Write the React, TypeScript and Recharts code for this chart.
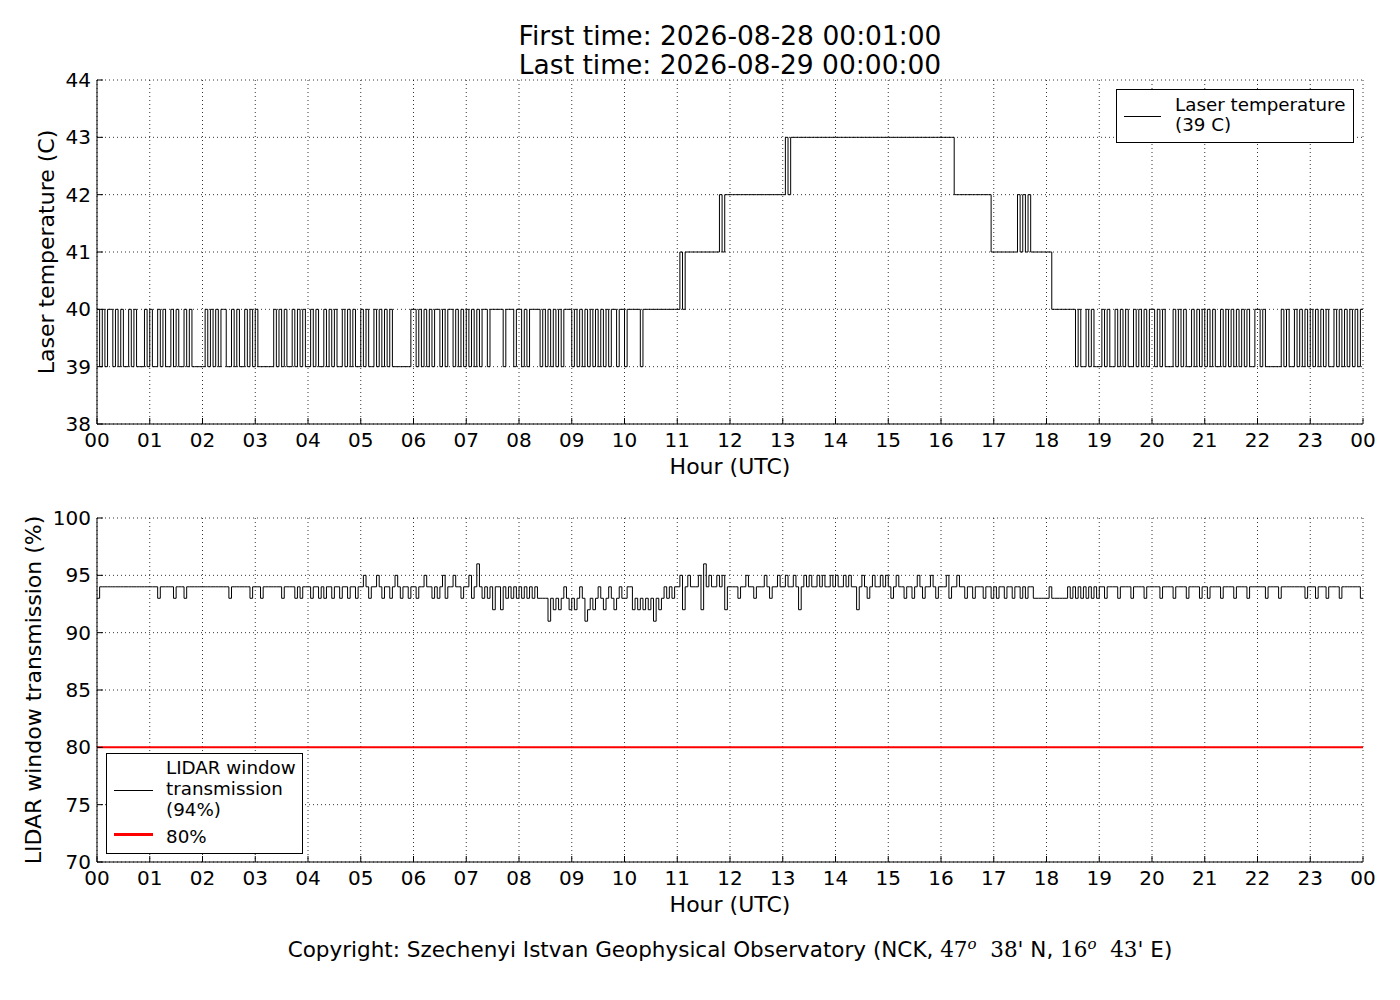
import { LineChart, Line, XAxis, YAxis, CartesianGrid, ReferenceLine } from 'recharts';

// one string per hour, one char per 3 minutes. '9' = 39 C, '0'..'3' = 40..43 C
const laserTempByHour = [
  '09090090909909099909',
  '09909099090990909999',
  '90909090099090990909',
  '09999990909099090909',
  '90909909090990909099',
  '09099090909099999990',
  '09090909009090090909',
  '09090900900000900090',
  '09090000909090909000',
  '90909090909090900900',
  '90000090000000000000',
  '01011111111111112122',
  '22222222222222222222',
  '23233333333333333333',
  '33333333333333333333',
  '33333333333333333333',
  '33333222222222222221',
  '11111111121212111111',
  '11000000000909909099',
  '90909909090990909090',
  '09090999090909909090',
  '90909909090909090990',
  '09099999909099090909',
  '09090909909090909090',
];
const laserTempEnd = 40;

// one string per hour, one char per 3 minutes. digit d = 90 + d %
const windowTransByHour = [
  '34444444444444444444',
  '44434444434443444444',
  '44444444443444444434',
  '44344444443444434344',
  '43443434434434434434',
  '45434454344345434434',
  '43445443434534454434',
  '45346434342442434343',
  '43434343333132323432',
  '32343123234323432343',
  '34423232323132343434',
  '45245444526454454524',
  '44434454434445434454',
  '45445424545445454454',
  '54454544245434544545',
  '43454434434543445434',
  '44534454434434443443',
  '43443443443434433333',
  '34333333434343434343',
  '44344443444434444344',
  '44434444344443444434',
  '43444434444344443444',
  '44434444344444444434',
  '44344434444344444443',
];
const windowTransEnd = 93;
const transThreshold = 80;

const hourTicks = [0, 1, 2, 3, 4, 5, 6, 7, 8, 9, 10, 11, 12, 13, 14, 15, 16, 17, 18, 19, 20, 21, 22, 23, 24];
const hourLabels = [
  '00', '01', '02', '03', '04', '05', '06', '07', '08', '09', '10', '11', '12',
  '13', '14', '15', '16', '17', '18', '19', '20', '21', '22', '23', '00',
];
const tempTicks = [38, 39, 40, 41, 42, 43, 44];
const transTicks = [70, 75, 80, 85, 90, 95, 100];

const tempFromChar = (c: string) => (c === '9' ? 39 : 40 + Number(c));
const transFromChar = (c: string) => 90 + Number(c);

const data: { hour: number; temp: number; trans: number }[] = [];
laserTempByHour.forEach((row, h) => {
  for (let i = 0; i < row.length; i++) {
    data.push({
      hour: h + i / row.length,
      temp: tempFromChar(row[i]),
      trans: transFromChar(windowTransByHour[h][i]),
    });
  }
});
data.push({ hour: 24, temp: laserTempEnd, trans: windowTransEnd });

const W = 1400;
const H = 470;
const margin = { top: 80, right: 37, bottom: 6, left: 37 };
const tickStyle = { fill: '#000', fontSize: 20, fontFamily: '"DejaVu Sans", sans-serif' };

function panelAxes(ticks: number[], domain: [number, number]) {
  return [
    <CartesianGrid key="g" stroke="#000" strokeDasharray="1 3" strokeWidth={0.8} />,
    <XAxis
      key="xb"
      dataKey="hour"
      type="number"
      domain={[0, 24]}
      ticks={hourTicks}
      tickFormatter={(v: number) => hourLabels[hourTicks.indexOf(v)]}
      interval={0}
      height={40}
      axisLine={{ stroke: '#000' }}
      tickLine={{ stroke: '#000' }}
      tickSize={-6}
      tickMargin={15}
      tick={tickStyle}
    />,
    <XAxis
      key="xt"
      xAxisId="top"
      orientation="top"
      dataKey="hour"
      type="number"
      domain={[0, 24]}
      ticks={hourTicks}
      interval={0}
      height={0}
      axisLine={{ stroke: '#000' }}
      tickLine={{ stroke: '#000' }}
      tickSize={-6}
      tick={false}
    />,
    <YAxis
      key="yl"
      type="number"
      domain={domain}
      ticks={ticks}
      interval={0}
      width={60}
      axisLine={{ stroke: '#000' }}
      tickLine={{ stroke: '#000' }}
      tickSize={-6}
      tickMargin={12}
      tick={tickStyle}
    />,
    <YAxis
      key="yr"
      yAxisId="right"
      orientation="right"
      type="number"
      domain={domain}
      ticks={ticks}
      interval={0}
      width={0}
      axisLine={{ stroke: '#000' }}
      tickLine={{ stroke: '#000' }}
      tickSize={-6}
      tick={false}
    />,
  ];
}

const axisTitle: React.CSSProperties = {
  position: 'absolute',
  fontSize: 22,
  lineHeight: '26px',
  textAlign: 'center',
  whiteSpace: 'nowrap',
};

const degree: React.CSSProperties = { fontStyle: 'italic', fontSize: 15, lineHeight: 0, verticalAlign: 'super' };

export default function App() {
  return (
    <div
      style={{
        position: 'absolute',
        left: 0,
        top: 0,
        width: W,
        height: 1000,
        background: '#fff',
        color: '#000',
        fontFamily: '"DejaVu Sans", sans-serif',
        overflow: 'hidden',
      }}
    >
      <div style={{ position: 'absolute', left: 97, width: 1266, top: 21, textAlign: 'center', fontSize: 26.5, lineHeight: '29px' }}>
        <div>First time: 2026-08-28 00:01:00</div>
        <div>Last time: 2026-08-29 00:00:00</div>
      </div>

      <div style={{ position: 'absolute', left: 0, top: 0 }}>
        <LineChart width={W} height={H} data={data} margin={margin}>
          {panelAxes(tempTicks, [38, 44])}
          <Line
            type="stepAfter"
            dataKey="temp"
            stroke="#000"
            strokeWidth={1}
            dot={false}
            activeDot={false}
            isAnimationActive={false}
          />
        </LineChart>
      </div>

      <div style={{ position: 'absolute', left: 0, top: 438 }}>
        <LineChart width={W} height={H} data={data} margin={margin}>
          {panelAxes(transTicks, [70, 100])}
          <Line
            type="stepAfter"
            dataKey="trans"
            stroke="#000"
            strokeWidth={1}
            dot={false}
            activeDot={false}
            isAnimationActive={false}
          />
          <ReferenceLine y={transThreshold} stroke="#ff0000" strokeWidth={2} />
        </LineChart>
      </div>

      <div style={{ ...axisTitle, left: 530, width: 400, top: 454 }}>Hour (UTC)</div>
      <div style={{ ...axisTitle, left: 530, width: 400, top: 892 }}>Hour (UTC)</div>
      <div style={{ ...axisTitle, left: 47 - 200, width: 400, top: 252 - 13, transform: 'rotate(-90deg)' }}>
        Laser temperature (C)
      </div>
      <div style={{ ...axisTitle, left: 34 - 200, width: 400, top: 690 - 13, transform: 'rotate(-90deg)' }}>
        LIDAR window transmission (%)
      </div>

      {/* legend, top panel */}
      <div
        style={{
          position: 'absolute',
          left: 1116,
          top: 89,
          width: 236,
          height: 52,
          border: '1px solid #000',
          background: '#fff',
          fontSize: 18.3,
          lineHeight: '20px',
        }}
      >
        <div style={{ position: 'absolute', left: 7, top: 26, width: 37, height: 1, background: '#000' }} />
        <div style={{ position: 'absolute', left: 58, top: 5, whiteSpace: 'nowrap' }}>
          <div>Laser temperature</div>
          <div>(39 C)</div>
        </div>
      </div>

      {/* legend, bottom panel */}
      <div
        style={{
          position: 'absolute',
          left: 106,
          top: 753,
          width: 195,
          height: 99,
          border: '1px solid #000',
          background: '#fff',
          fontSize: 18.3,
          lineHeight: '21px',
        }}
      >
        <div style={{ position: 'absolute', left: 7, top: 36, width: 39, height: 1, background: '#000' }} />
        <div style={{ position: 'absolute', left: 7, top: 79, width: 39, height: 3, background: '#ff0000' }} />
        <div style={{ position: 'absolute', left: 59, top: 3, whiteSpace: 'nowrap' }}>
          <div>LIDAR window</div>
          <div>transmission</div>
          <div>(94%)</div>
        </div>
        <div style={{ position: 'absolute', left: 59, top: 72, whiteSpace: 'nowrap' }}>80%</div>
      </div>

      <div
        style={{
          position: 'absolute',
          left: 97,
          width: 1266,
          top: 937,
          textAlign: 'center',
          fontSize: 21.5,
          lineHeight: '26px',
          whiteSpace: 'nowrap',
        }}
      >
        Copyright: Szechenyi Istvan Geophysical Observatory (NCK,{' '}
        <span style={{ fontFamily: '"DejaVu Serif", serif' }}>
          47<span style={degree}>o</span>
          {'\u00a0\u00a0'}38'
        </span>{' '}
        N,{' '}
        <span style={{ fontFamily: '"DejaVu Serif", serif' }}>
          16<span style={degree}>o</span>
          {'\u00a0\u00a0'}43'
        </span>{' '}
        E)
      </div>
    </div>
  );
}
